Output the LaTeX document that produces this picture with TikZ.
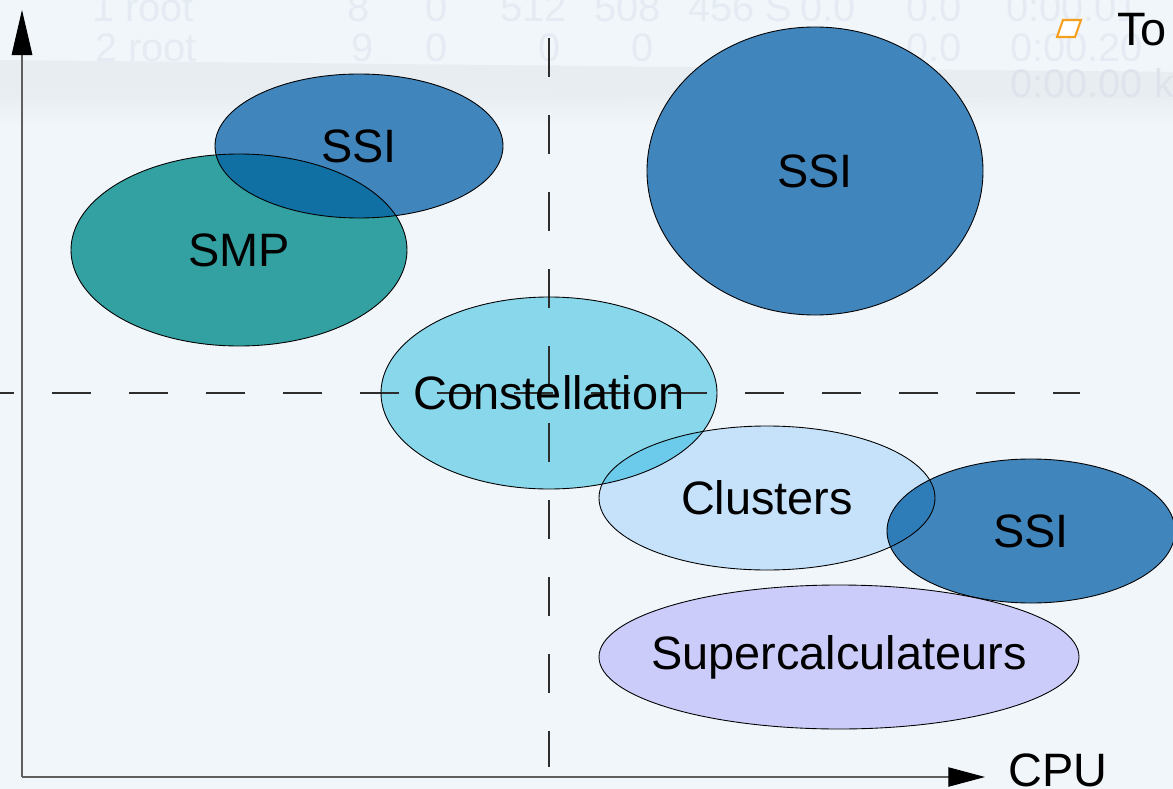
\documentclass[tikz,border=0pt]{standalone}
\usepackage{fontspec}
\setmainfont{Liberation Sans}
\usetikzlibrary{arrows.meta}

% palette
\definecolor{paper}{RGB}{241,246,251}
\definecolor{band}{RGB}{232,237,242}
\definecolor{ghosttext}{RGB}{229,235,242}
\definecolor{ghostdark}{RGB}{222,228,235}
\definecolor{cSSI}{RGB}{64,133,188}
\definecolor{cSMP}{RGB}{51,161,161}
\definecolor{cConst}{RGB}{137,215,235}
\definecolor{cClus}{RGB}{197,226,250}
\definecolor{cSuper}{RGB}{204,204,250}
\definecolor{ovSSISMP}{RGB}{16,112,163}
\definecolor{ovConClu}{RGB}{108,202,234}
\definecolor{ovCluSSI}{RGB}{47,125,184}
\definecolor{dashgrey}{RGB}{45,45,45}
\definecolor{axisgrey}{RGB}{95,95,95}
\definecolor{bulletorange}{RGB}{245,160,30}

% an ellipse given by centre and radii in pixel units
\newcommand\ovalpath[4]{(#1,#2) ellipse [x radius=#3*0.03cm, y radius=#4*0.03cm]}
\def\pSMP{\ovalpath{239}{250}{168}{96}}
\def\pSSIa{\ovalpath{359}{146}{144}{72}}
\def\pSSIb{\ovalpath{815}{171}{168}{144}}
\def\pConst{\ovalpath{549}{393}{168}{96}}
\def\pClus{\ovalpath{767}{498}{168}{72}}
\def\pSSIc{\ovalpath{1031}{531}{144}{72}}
\def\pSuper{\ovalpath{839}{657}{240}{72}}

\tikzset{
  lbl/.style={font=\fontsize{40}{48}\selectfont, inner sep=0pt, text=black},
  ghost/.style={font=\fontsize{34}{40}\selectfont, inner sep=0pt, anchor=base west, text=ghosttext},
  outline/.style={draw=black, line width=0.75pt},
  guide/.style={draw=dashgrey, line width=0.9pt, dash pattern=on 1.17cm off 1.14cm},
  axisline/.style={draw=axisgrey, line width=0.9pt},
}

\begin{document}
\begin{tikzpicture}[x=0.03cm, y=-0.03cm]
\useasboundingbox (0,0) rectangle (1173,789);

% backdrop
\fill[paper] (0,0) rectangle (1173,789);
\fill[band] (0,60) -- (1173,72) -- (1173,100) -- (0,92) -- cycle;
\shade[top color=band, bottom color=paper, shading angle=0]
  (0,92) -- (1173,100) -- (1173,128) -- (0,124) -- cycle;

% faint process listing behind the chart
\node[ghost] (g1)  at (92,22)   {1 root};
\node[ghost] (g2)  at (347,22)  {8};
\node[ghost] (g3)  at (425,22)  {0};
\node[ghost] (g4)  at (500,22)  {512};
\node[ghost] (g5)  at (594,22)  {508};
\node[ghost] (g6)  at (688,22)  {456 S};
\node[ghost] (g7)  at (800,22)  {0.0};
\node[ghost] (g8)  at (906,22)  {0.0};
\node[ghost] (g9)  at (1006,22) {0:00.01};
\node[ghost] (g10) at (95,62)   {2 root};
\node[ghost] (g11) at (351,62)  {9};
\node[ghost] (g12) at (425,62)  {0};
\node[ghost] (g13) at (538,62)  {0};
\node[ghost] (g14) at (631,62)  {0};
\node[ghost] (g15) at (906,62)  {0.0};
\node[ghost] (g16) at (1010,62) {0:00.20};
\node[ghost, text=ghostdark] (g17) at (1010,98) {0:00.00 k};

% ellipse fills
\fill[cSMP]   \pSMP;
\fill[cSSI]   \pSSIa;
\fill[cSSI]   \pSSIb;
\fill[cConst] \pConst;
\fill[cClus]  \pClus;
\fill[cSSI]   \pSSIc;
\fill[cSuper] \pSuper;

% overlapping regions
\begin{scope}
  \clip \pSMP;
  \fill[ovSSISMP] \pSSIa;
\end{scope}
\begin{scope}
  \clip \pConst;
  \fill[ovConClu] \pClus;
\end{scope}
\begin{scope}
  \clip \pClus;
  \fill[ovCluSSI] \pSSIc;
\end{scope}

% quadrant guides
\coordinate (vtop) at (549,38);
\coordinate (vbot) at (549,767);
\coordinate (hleft) at (0,393);
\coordinate (hright) at (1080,393);
\draw[guide] (vtop) -- (vbot);
\draw[guide, dash phase=0.75cm] (hleft) -- (hright);

% ellipse outlines
\path[outline] \pSMP;
\path[outline] \pSSIa;
\path[outline] \pSSIb;
\path[outline] \pConst;
\path[outline] \pClus;
\path[outline] \pSSIc;
\path[outline] \pSuper;

% labels
\node[lbl] (ssia)  at (359,146) {SSI};
\node[lbl] (smp)   at (239,250) {SMP};
\node[lbl] (ssib)  at (815,171) {SSI};
\node[lbl] (const) at (549,393) {Constellation};
\node[lbl] (clus)  at (767,498) {Clusters};
\node[lbl] (ssic)  at (1031,531) {SSI};
\node[lbl] (super) at (839,657) {Supercalculateurs};

% axes
\coordinate (origin) at (22,777);
\coordinate (ytip) at (22,10);
\coordinate (xtip) at (985,777);
\draw[axisline, -{Triangle[length=1.35cm, width=0.62cm, color=black]}] (origin) -- (ytip);
\draw[axisline, -{Triangle[length=1.1cm, width=0.58cm, color=black]}] (origin) -- (xtip);
\node[lbl, anchor=base west] (cpu) at (1008,786) {CPU};

% bullet item in the corner
\draw[bulletorange, line width=1.8pt, fill=white, line join=miter]
  (1057,37) -- (1075,37) -- (1081,20) -- (1063,20) -- cycle;
\node[lbl, anchor=base west] (to) at (1117,46) {To};
\end{tikzpicture}
\end{document}
